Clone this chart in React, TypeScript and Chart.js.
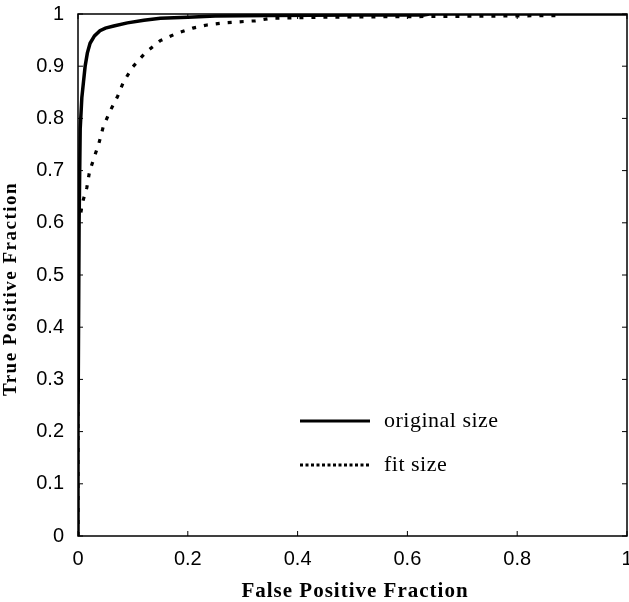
import React, { useEffect, useRef } from "react";
import { Chart, registerables } from "chart.js";
Chart.register(...registerables);

const originalX = [0, 0, 0.002, 0.004, 0.007, 0.010, 0.013, 0.017, 0.022, 0.03, 0.04, 0.05, 0.065, 0.09, 0.12, 0.15, 0.2, 0.25, 0.35, 0.5, 0.63, 0.64, 1];
const originalY = [0, 0.2, 0.6, 0.78, 0.84, 0.87, 0.9, 0.925, 0.944, 0.958, 0.968, 0.973, 0.977, 0.983, 0.988, 0.992, 0.994, 0.996, 0.997, 0.998, 0.998, 1, 1];
const fitX = [0, 0, 0.004, 0.0085, 0.016, 0.021, 0.03, 0.038, 0.046, 0.058, 0.072, 0.083, 0.10, 0.122, 0.15, 0.18, 0.209, 0.235, 0.265, 0.293, 0.323, 0.353, 0.45, 0.6, 0.75, 0.87];
const fitY = [0, 0.6, 0.612, 0.64, 0.667, 0.698, 0.727, 0.752, 0.784, 0.813, 0.842, 0.870, 0.899, 0.925, 0.949, 0.963, 0.973, 0.979, 0.983, 0.985, 0.987, 0.992, 0.994, 0.995, 0.996, 0.997];
const seriesLabels = ["original size", "fit size"];
const xTitle = "False Positive Fraction";
const yTitle = "True Positive Fraction";
const xTicks = [0, 0.2, 0.4, 0.6, 0.8, 1];
const yTicks = [0, 0.1, 0.2, 0.3, 0.4, 0.5, 0.6, 0.7, 0.8, 0.9, 1];

const fmt = (v: number) => (v === 0 || v === 1 ? String(v) : v.toFixed(1));
const tickFont = { family: "'Liberation Sans', Arial, sans-serif", size: 20 };

const decor = {
  id: "decor",
  afterDatasetsDraw(chart: any) {
    const { ctx, chartArea: a, scales } = chart;
    const xs = scales.x, ys = scales.y;
    ctx.save();
    ctx.strokeStyle = "#000";
    ctx.lineWidth = 1.5;
    ctx.strokeRect(a.left, a.top, a.right - a.left, a.bottom - a.top);
    ctx.lineWidth = 1;
    xTicks.forEach((v) => {
      const p = xs.getPixelForValue(v);
      ctx.beginPath(); ctx.moveTo(p, a.bottom); ctx.lineTo(p, a.bottom - 5); ctx.stroke();
      ctx.beginPath(); ctx.moveTo(p, a.top); ctx.lineTo(p, a.top + 5); ctx.stroke();
    });
    yTicks.forEach((v) => {
      const p = ys.getPixelForValue(v);
      ctx.beginPath(); ctx.moveTo(a.left, p); ctx.lineTo(a.left + 5, p); ctx.stroke();
      ctx.beginPath(); ctx.moveTo(a.right, p); ctx.lineTo(a.right - 5, p); ctx.stroke();
    });
    // legend
    const ds = chart.data.datasets;
    const rows = [421, 465];
    const legendDash = [[], [3, 2.5]];
    ds.forEach((d: any, i: number) => {
      ctx.beginPath();
      ctx.strokeStyle = "#000";
      ctx.lineWidth = 3;
      ctx.setLineDash(legendDash[i]);
      ctx.moveTo(300, rows[i]);
      ctx.lineTo(370, rows[i]);
      ctx.stroke();
      ctx.setLineDash([]);
      ctx.fillStyle = "#000";
      ctx.font = "22px 'Liberation Serif', 'DejaVu Serif', serif";
      (ctx as any).letterSpacing = "0.5px";
      ctx.textAlign = "left";
      ctx.textBaseline = "alphabetic";
      ctx.fillText(d.label, 384, rows[i] + 6);
    });
    // titles
    ctx.fillStyle = "#000";
    ctx.textAlign = "center";
    ctx.textBaseline = "alphabetic";
    ctx.font = "bold 21px 'Liberation Serif', serif";
    (ctx as any).letterSpacing = "1px";
    ctx.fillText(xTitle, 355, 597);
    ctx.font = "bold 19px 'Liberation Serif', serif";
    (ctx as any).letterSpacing = "1.5px";
    ctx.translate(16, 289);
    ctx.rotate(-Math.PI / 2);
    ctx.fillText(yTitle, 0, 0);
    ctx.restore();
  },
};

export default function App() {
  const ref = useRef<HTMLCanvasElement>(null);
  useEffect(() => {
    document.body.style.margin = "0";
    const chart = new Chart(ref.current!, {
      type: "line",
      data: {
        datasets: [
          {
            label: seriesLabels[0],
            data: originalX.map((x, i) => ({ x, y: originalY[i] })),
            borderColor: "#000",
            borderWidth: 3.5,
            pointRadius: 0,
            tension: 0,
          },
          {
            label: seriesLabels[1],
            data: fitX.map((x, i) => ({ x, y: fitY[i] })),
            borderColor: "#000",
            borderWidth: 3.2,
            borderDash: [4, 8],
            pointRadius: 0,
            tension: 0,
          },
        ],
      },
      options: {
        animation: false,
        responsive: false,
        layout: { padding: { left: 0, right: 2, top: 14, bottom: 0 } },
        plugins: { legend: { display: false }, tooltip: { enabled: false } },
        scales: {
          x: {
            type: "linear",
            min: 0,
            max: 1,
            afterFit: (s: any) => { s.height = 66; s.paddingLeft = 0; s.paddingRight = 0; },
            afterBuildTicks: (s: any) => { s.ticks = xTicks.map((v) => ({ value: v })); },
            grid: { display: false },
            border: { display: false },
            ticks: {
              color: "#000",
              padding: 3,
              maxRotation: 0,
              font: tickFont,
              callback: (v: any) => fmt(Number(v)),
            },
          },
          y: {
            type: "linear",
            min: 0,
            max: 1,
            afterFit: (s: any) => { s.width = 78; s.paddingTop = 0; s.paddingBottom = 0; },
            afterBuildTicks: (s: any) => { s.ticks = yTicks.map((v) => ({ value: v })); },
            grid: { display: false },
            border: { display: false },
            ticks: {
              color: "#000",
              padding: 6,
              font: tickFont,
              callback: (v: any) => fmt(Number(v)),
            },
          },
        },
      },
      plugins: [decor],
    } as any);
    return () => chart.destroy();
  }, []);
  return <canvas ref={ref} width={629} height={602} style={{ display: "block" }} />;
}
